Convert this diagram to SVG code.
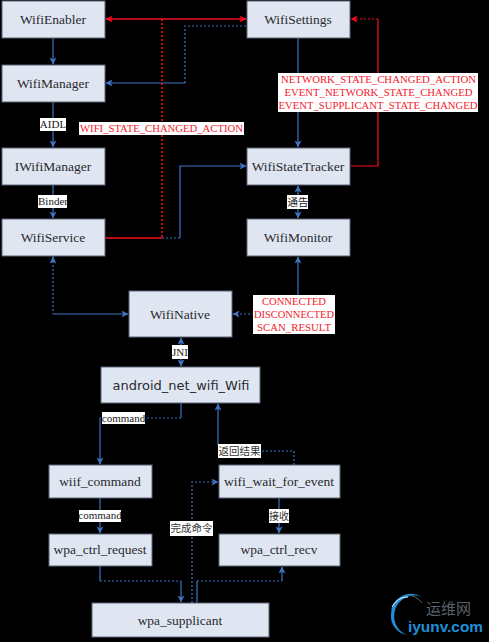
<svg xmlns="http://www.w3.org/2000/svg" width="489" height="642" viewBox="0 0 489 642">
<style>
.n{fill:#dfe6f1;stroke:#5a6478;stroke-width:1}
.t{font-family:"Liberation Serif",serif;font-size:13.5px;fill:#2a2a30;text-anchor:middle}
.c{fill:none;stroke:#3f74c4;stroke-width:1.2}
.d{stroke-dasharray:2 2}
.r{fill:none;stroke:#f5101c;stroke-width:1.2}
.lb{fill:#fff}
.l{font-family:"Liberation Serif",serif;font-size:11px;fill:#222;text-anchor:middle}
.lr{font-family:"Liberation Serif",serif;font-size:11px;fill:#f5202c;text-anchor:middle}
</style>
<defs>
<marker id="a" viewBox="0 0 8 8" refX="7.5" refY="4" markerWidth="7" markerHeight="7" markerUnits="userSpaceOnUse" orient="auto-start-reverse"><path d="M0 0L8 4L0 8L2 4Z" fill="#3f74c4"/></marker>
<marker id="ar" viewBox="0 0 8 8" refX="7.5" refY="4" markerWidth="7" markerHeight="7" markerUnits="userSpaceOnUse" orient="auto-start-reverse"><path d="M0 0L8 4L0 8L2 4Z" fill="#f5101c"/></marker>
</defs>
<rect width="489" height="642" fill="#000"/>
<g id="connectors">
<path class="c" d="M53 38V64" marker-end="url(#a)"/>
<path class="c" d="M53 102V147" marker-end="url(#a)"/>
<path class="c" d="M53 185V218" marker-end="url(#a)"/>
<path class="c d" d="M53 256V262"/>
<path class="c d" d="M246 26H185V83"/>
<path class="c" d="M185 83H106" marker-end="url(#a)"/>
<path class="c" d="M298 38V147" marker-end="url(#a)"/>
<path class="c" d="M298 186V218" marker-start="url(#a)" marker-end="url(#a)"/>
<path class="c d" d="M162 238H180"/>
<path class="c" d="M180 238V166H246" marker-end="url(#a)"/>
<path class="c d" d="M53 257V314" marker-start="url(#a)"/>
<path class="c" d="M53 314H128" marker-end="url(#a)"/>
<path class="c" d="M298 257V314" marker-start="url(#a)"/>
<path class="c d" d="M298 314H233" marker-end="url(#a)"/>
<path class="c" d="M181 338V366" marker-start="url(#a)" marker-end="url(#a)"/>
<path class="c" d="M181 403V418"/>
<path class="c d" d="M181 418H100"/>
<path class="c" d="M100 418V464" marker-end="url(#a)"/>
<path class="c" d="M100 498V533" marker-end="url(#a)"/>
<path class="c" d="M100 566V581"/>
<path class="c d" d="M100 581H181"/>
<path class="c" d="M181 581V602" marker-end="url(#a)"/>
<path class="c d" d="M192 603V482H218" marker-end="url(#a)"/>
<path class="c" d="M197 603V581"/>
<path class="c d" d="M197 581H282"/>
<path class="c" d="M282 581V567" marker-end="url(#a)"/>
<path class="c" d="M279 498V533" marker-end="url(#a)"/>
<path class="c" d="M218 445V404" marker-end="url(#a)"/>
<path class="c d" d="M218 451H294V465"/>
<path class="r" d="M106 19H246" style="stroke-width:1.6" marker-start="url(#ar)" marker-end="url(#ar)"/>
<path class="r d" d="M162 19V238" style="stroke-width:1.6"/>
<path class="r" d="M105 238H162" style="stroke-width:1.6"/>
<path class="r" d="M351 166H378V19"/>
<path class="r d" d="M378 19H351" marker-end="url(#ar)"/>
</g>
<g id="WifiEnabler"><rect class="n" x="2" y="1" width="103" height="37"/><text class="t" x="53" y="24">WifiEnabler</text></g>
<g id="WifiManager"><rect class="n" x="2" y="65" width="103" height="37"/><text class="t" x="53" y="88">WifiManager</text></g>
<g id="IWifiManager"><rect class="n" x="2" y="148" width="103" height="37"/><text class="t" x="53" y="171">IWifiManager</text></g>
<g id="WifiService"><rect class="n" x="2" y="219" width="103" height="37"/><text class="t" x="53" y="242">WifiService</text></g>
<g id="WifiSettings"><rect class="n" x="247" y="1" width="103" height="37"/><text class="t" x="298" y="24">WifiSettings</text></g>
<g id="WifiStateTracker"><rect class="n" x="247" y="148" width="103" height="37"/><text class="t" x="298" y="171">WifiStateTracker</text></g>
<g id="WifiMonitor"><rect class="n" x="247" y="219" width="103" height="37"/><text class="t" x="298" y="242">WifiMonitor</text></g>
<g id="WifiNative"><rect class="n" x="129" y="291" width="103" height="46"/><text class="t" x="180" y="319">WifiNative</text></g>
<g id="android_net_wifi_Wifi"><rect class="n" x="101" y="367" width="159" height="36"/><text x="181" y="390" text-anchor="middle" font-family="'DejaVu Sans',sans-serif" font-size="13" fill="#2a2a30">android_net_wifi_Wifi</text></g>
<g id="wiif_command"><rect class="n" x="49" y="465" width="103" height="33"/><text class="t" x="100" y="486">wiif_command</text></g>
<g id="wpa_ctrl_request"><rect class="n" x="49" y="534" width="103" height="32"/><text class="t" x="100" y="554">wpa_ctrl_request</text></g>
<g id="wifi_wait_for_event"><rect class="n" x="219" y="465" width="121" height="33"/><text class="t" x="279" y="486">wifi_wait_for_event</text></g>
<g id="wpa_ctrl_recv"><rect class="n" x="219" y="534" width="121" height="32"/><text class="t" x="279" y="554">wpa_ctrl_recv</text></g>
<g id="wpa_supplicant"><rect class="n" x="92" y="603" width="177" height="34"/><text class="t" x="180" y="625">wpa_supplicant</text></g>
<g id="labels">
<rect class="lb" x="40" y="118" width="26" height="13"/><text class="l" x="53" y="128">AIDL</text>
<rect class="lb" x="38" y="195" width="29" height="13"/><text class="l" x="53" y="205">Binder</text>
<rect class="lb" x="79" y="122" width="165" height="13"/><text class="lr" x="161.500" y="132" textLength="163" lengthAdjust="spacingAndGlyphs">WIFI_STATE_CHANGED_ACTION</text>
<rect class="lb" x="278" y="73" width="200" height="39"/>
<text class="lr" x="378.500" y="83" textLength="195" lengthAdjust="spacingAndGlyphs">NETWORK_STATE_CHANGED_ACTION</text>
<text class="lr" x="378.500" y="96" textLength="188" lengthAdjust="spacingAndGlyphs">EVENT_NETWORK_STATE_CHANGED</text>
<text class="lr" x="378" y="109" textLength="199" lengthAdjust="spacingAndGlyphs">EVENT_SUPPLICANT_STATE_CHANGED</text>
<rect class="lb" x="287" y="195" width="21" height="14"/><text x="298" y="206" text-anchor="middle" font-family="'Noto Sans CJK SC',sans-serif" font-size="10.500" fill="#222">通告</text>
<rect class="lb" x="253" y="295" width="82" height="39"/>
<text class="lr" x="294" y="305" textLength="64" lengthAdjust="spacingAndGlyphs">CONNECTED</text>
<text class="lr" x="294" y="318" textLength="80" lengthAdjust="spacingAndGlyphs">DISCONNECTED</text>
<text class="lr" x="294" y="331" textLength="74" lengthAdjust="spacingAndGlyphs">SCAN_RESULT</text>
<rect class="lb" x="172" y="345" width="16" height="14"/><text class="l" x="180" y="355.500">JNI</text>
<rect class="lb" x="102" y="412" width="43" height="12"/><text class="l" x="123.500" y="421.500">command</text>
<rect class="lb" x="79" y="510" width="42" height="12"/><text class="l" x="100" y="519">command</text>
<rect class="lb" x="170" y="521" width="43" height="15"/><text x="191.500" y="532" text-anchor="middle" font-family="'Noto Sans CJK SC',sans-serif" font-size="10.500" fill="#333">完成命令</text>
<rect class="lb" x="218" y="444" width="43" height="14"/><text x="239.500" y="455" text-anchor="middle" font-family="'Noto Sans CJK SC',sans-serif" font-size="10.500" fill="#333">返回结果</text>
<rect class="lb" x="269" y="509" width="20" height="14"/><text x="279" y="520" text-anchor="middle" font-family="'Noto Sans CJK SC',sans-serif" font-size="10" fill="#333">接收</text>
</g>
<g id="watermark">
<path d="M407 635A20 20 0 0 1 422 597A20 20 0 0 0 391 615A19 19 0 0 0 407 635Z" fill="#1f8fd8"/>
<path d="M392 607A17 17 0 0 1 408 597" fill="none" stroke="#dff2ff" stroke-width="1"/>
<path d="M408 595A20 20 0 0 1 422 603" fill="none" stroke="#5a6670" stroke-width="1"/>
<text x="426" y="614" font-family="'Noto Sans CJK SC',sans-serif" font-size="15" fill="#5b6168">运维网</text>
<text x="408" y="632" font-family="'Liberation Sans',sans-serif" font-size="15" font-weight="bold" fill="#1f8fd8" textLength="75" lengthAdjust="spacingAndGlyphs">iyunv.com</text>
</g>
</svg>
